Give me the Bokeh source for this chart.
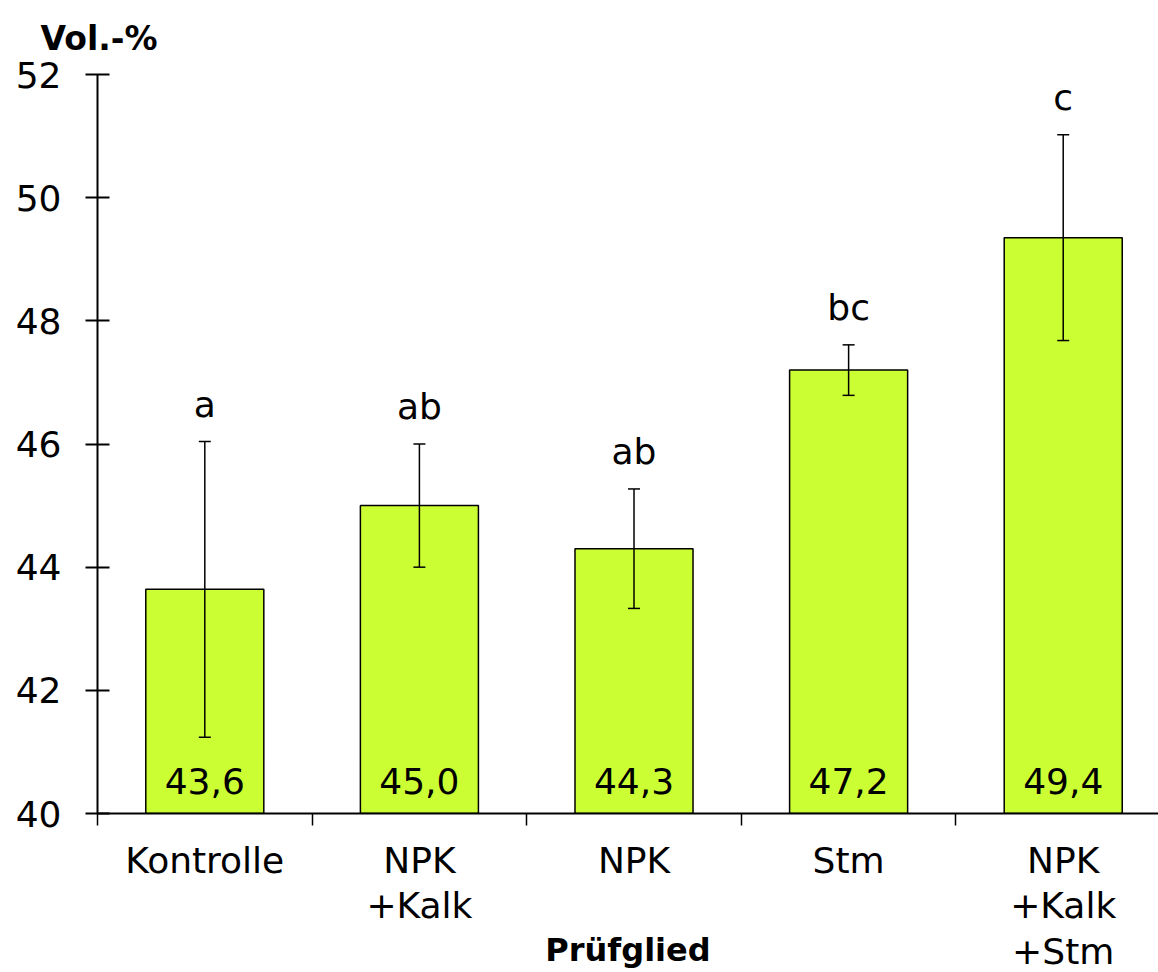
from bokeh.plotting import figure
from bokeh.models import (ColumnDataSource, Range1d, FixedTicker, Whisker, TeeHead,
                          LabelSet, Title)
from bokeh.core.properties import value
from bokeh.embed import file_html
from bokeh.resources import INLINE

categories = ["Kontrolle", "NPK\n+Kalk", "NPK", "Stm", "NPK\n+Kalk\n+Stm"]
values = [43.64, 45.0, 44.3, 47.2, 49.35]
errors = [2.4, 1.0, 0.97, 0.41, 1.67]
value_labels = ["43,6", "45,0", "44,3", "47,2", "49,4"]
letters = ["a", "ab", "ab", "bc", "c"]
y_ticks = [40, 42, 44, 46, 48, 50, 52]
y_unit = "Vol.-%"
x_title = "Prüfglied"

FONT = "DejaVu Sans"
xs = list(range(len(categories)))
src = ColumnDataSource(dict(
    x=xs, top=values,
    upper=[v + e for v, e in zip(values, errors)],
    lower=[v - e for v, e in zip(values, errors)],
    vlab=value_labels, let=letters,
    base=[y_ticks[0]] * len(xs),
))

p = figure(width=1158, height=972, output_backend="svg", toolbar_location=None,
           x_range=Range1d(-0.5, 4.444), y_range=Range1d(y_ticks[0], y_ticks[-1]),
           min_border_left=97, min_border_right=0, min_border_top=74,
           min_border_bottom=156)
p.outline_line_color = None
p.grid.grid_line_color = None
p.background_fill_color = "white"
p.border_fill_color = "white"

p.vbar(x="x", top="top", bottom=y_ticks[0], width=0.55, source=src,
       fill_color="#CCFF33", line_color="black", line_width=1.5)

wh = Whisker(source=src, base="x", upper="upper", lower="lower",
             line_color="black", line_width=1.5, level="overlay",
             upper_head=TeeHead(size=12, line_color="black", line_width=1.5),
             lower_head=TeeHead(size=12, line_color="black", line_width=1.5))
p.add_layout(wh)

p.add_layout(LabelSet(x="x", y="base", text="vlab", source=src, y_offset=20,
                      text_align="center", text_baseline="alphabetic",
                      text_font=value(FONT), text_font_size=value("36px"),
                      text_color="black"))
p.add_layout(LabelSet(x="x", y="upper", text="let", source=src, y_offset=25,
                      text_align="center", text_baseline="alphabetic",
                      text_font=value(FONT), text_font_size=value("36px"),
                      text_color="black"))

# y axis
ya = p.yaxis[0]
ya.ticker = FixedTicker(ticks=y_ticks)
ya.major_tick_in = 12
ya.major_tick_out = 12
ya.minor_tick_line_color = None
ya.axis_line_width = 2
ya.major_tick_line_width = 2
ya.major_label_standoff = 24
ya.major_label_text_font = FONT
ya.major_label_text_font_size = "36px"
ya.major_label_text_color = "black"

# x axis
xa = p.xaxis[0]
xa.ticker = FixedTicker(ticks=xs, minor_ticks=[i - 0.5 for i in xs] + [xs[-1] + 0.5])
xa.major_label_overrides = {i: c for i, c in zip(xs, categories)}
xa.major_tick_in = 0
xa.major_tick_out = 0
xa.minor_tick_in = 0
xa.minor_tick_out = 12
xa.minor_tick_line_width = 1.5
xa.minor_tick_line_color = "black"
xa.axis_line_width = 2
xa.major_label_standoff = 14
xa.major_label_text_font = FONT
xa.major_label_text_font_size = "36px"
xa.major_label_text_line_height = 1.12
xa.major_label_text_color = "black"
xa.axis_label = x_title
xa.axis_label_standoff = -44
xa.axis_label_text_font = FONT
xa.axis_label_text_font_size = "32px"
xa.axis_label_text_font_style = "bold"
xa.axis_label_text_color = "black"

p.add_layout(Title(text=y_unit, align="left", offset=-57, standoff=32,
                   vertical_align="middle",
                   text_font=FONT, text_font_size="33px", text_font_style="bold",
                   text_color="black"), "above")

open("out.html", "w").write(file_html(p, INLINE))
